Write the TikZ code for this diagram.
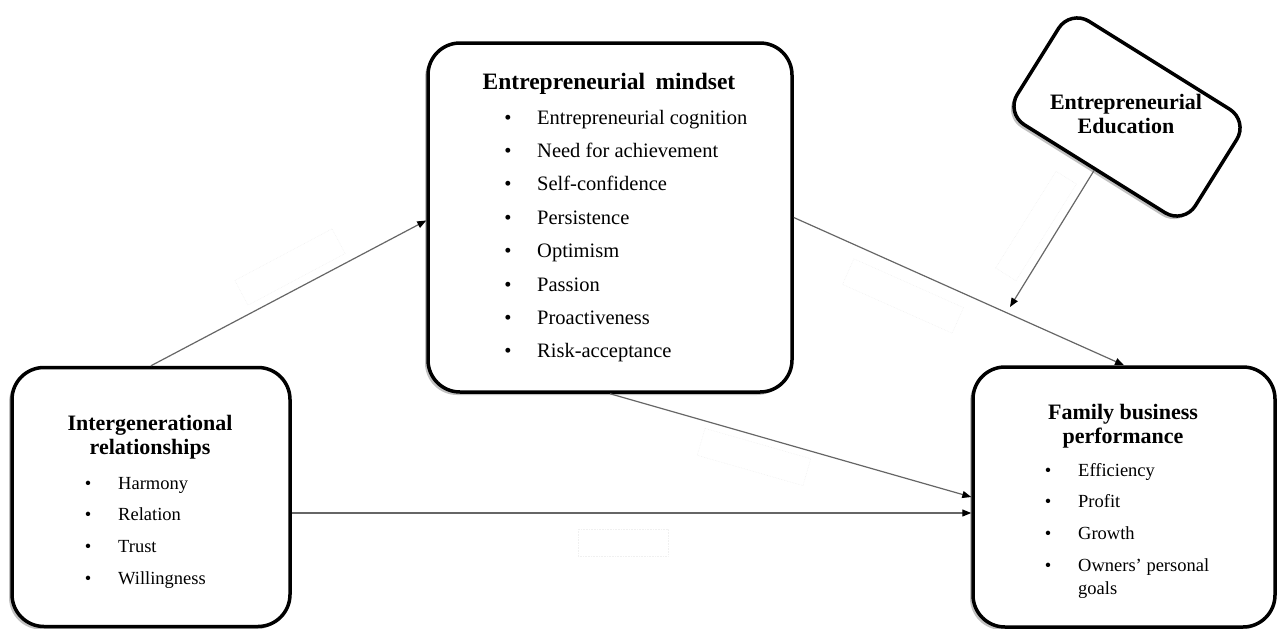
\documentclass[tikz,border=0pt]{standalone}
\usepackage{fontspec}
\setmainfont{Liberation Serif}
\usepackage{tikz}
\usetikzlibrary{arrows.meta,shadows}

\begin{document}
\begin{tikzpicture}[x=1pt,y=-1pt,
  blk/.style={draw=black, line width=3.5pt, fill=white, rounded corners=32pt,
    drop shadow={shadow xshift=-3pt, shadow yshift=-3pt, fill=gray!60, opacity=0.8}},
  ttl/.style={align=center, inner sep=0pt, font=\fontsize{22}{23.5}\selectfont\bfseries},
  itm/.style={anchor=base west, inner sep=0pt, font=\fontsize{18.5}{23}\selectfont},
  bul/.style={anchor=base, inner sep=0pt, font=\fontsize{18.5}{23}\selectfont},
  arr/.style={draw=black!60, line width=1.2pt, -{Triangle[length=9pt,width=7pt,color=black]}},
  ghost/.style={draw=black!6, line width=0.6pt, densely dotted}]

\useasboundingbox (0,0) rectangle (1280,629);

% faint empty label frames along the paths
\draw[ghost, rotate around={28:(290,267)}] (235,253) rectangle (345,281);
\draw[ghost, rotate around={-24:(903,296)}] (843,282) rectangle (963,310);
\draw[ghost, rotate around={58:(1036,226)}] (979,214) rectangle (1093,238);
\draw[ghost, rotate around={-16:(754,457)}] (699,443) rectangle (809,471);
\draw[ghost] (578,529) rectangle (668,556);

% the four blocks
\node[blk, minimum width=278pt, minimum height=259pt] (ir) at (151,497) {};
\node[blk, minimum width=364pt, minimum height=349pt] (em) at (610,217.5) {};
\node[blk, minimum width=302pt, minimum height=260pt] (fb) at (1124,497) {};
\node[blk, rounded corners=22pt, rotate=-32, minimum width=210pt, minimum height=122pt] (edbox) at (1127,117) {};

% headings
\node[ttl] (irttl) at (150,437) {Intergenerational\\relationships};
\node[ttl, font=\fontsize{23.5}{25}\selectfont\bfseries] (emttl) at (609,84) {Entrepreneurial\hspace{0.45em}mindset};
\node[ttl] (fbttl) at (1123,426) {Family business\\performance};
\node[ttl] (edttl) at (1126,114) {Entrepreneurial\\Education};

% bullet lists
\foreach \txt [count=\i] in {Harmony,Relation,Trust,Willingness}{
  \node[bul] (irb\i) at (88,{489+31.7*(\i-1)}) {\textbullet};
  \node[itm] (iri\i) at (118,{489+31.7*(\i-1)}) {\txt};
}
\foreach \txt [count=\i] in {Entrepreneurial cognition,Need for achievement,Self-confidence,
    Persistence,Optimism,Passion,Proactiveness,Risk-acceptance}{
  \node[bul, font=\fontsize{20.5}{24}\selectfont] (emb\i) at (508,{124+33.4*(\i-1)}) {\textbullet};
  \node[itm, font=\fontsize{20.5}{24}\selectfont] (emi\i) at (537,{124+33.4*(\i-1)}) {\txt};
}
\foreach \txt [count=\i] in {Efficiency,Profit,Growth,
    {\begin{tabular}[t]{@{}l@{}}Owners’ personal\\goals\end{tabular}}}{
  \node[bul] (fbb\i) at (1048,{476+31.7*(\i-1)}) {\textbullet};
  \node[itm] (fbi\i) at (1078,{476+31.7*(\i-1)}) {\txt};
}

% paths
\coordinate (edtip) at (1010,307);
\draw[arr] (ir.north) -- ([yshift=-3pt]em.west);
\draw[arr] (em.east) -- (fb.north);
\draw[arr] (em.south) -- (fb.west);
\draw[arr] ([yshift=-16pt]ir.east) -- ([yshift=-16pt]fb.west);
\draw[arr] (edbox) -- (edtip);
\end{tikzpicture}
\end{document}
